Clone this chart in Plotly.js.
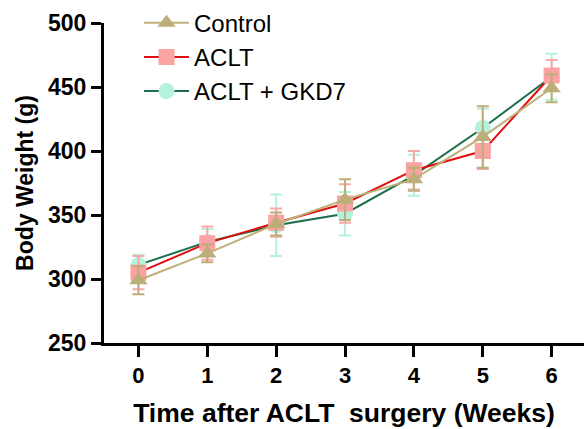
<!DOCTYPE html>
<html>
<head>
<meta charset="utf-8">
<script src="https://cdn.plot.ly/plotly-3.0.1.min.js"></script>
<style>html,body{margin:0;padding:0;background:#fff;}#chart{width:584px;height:429px;}</style>
</head>
<body>
<div id="chart"></div>
<script>
const weeks = [0, 1, 2, 3, 4, 5, 6];
const tickLabels = ["0", "1", "2", "3", "4", "5", "6"];
const seriesNames = ["Control", "ACLT", "ACLT + GKD7"];
const controlMean = [299, 320, 343, 362, 378, 411, 449];
const controlErr  = [11, 7, 9, 16, 9, 24, 11];
const acltMean    = [305, 328, 344, 359, 385, 400, 459];
const acltErr     = [13, 13, 11, 15, 15, 14, 12];
const gkd7Mean    = [311, 329, 342, 351, 381, 418, 458];
const gkd7Err     = [8, 10, 24, 17, 16, 15, 18];

function mk(name, y, err, lineColor, markerColor, errColor, symbol) {
  return {
    type: 'scatter', mode: 'lines+markers', name: name,
    x: weeks, y: y,
    line: {color: lineColor, width: 2},
    marker: {symbol: symbol, size: 16, color: markerColor, line: {width: 0}},
    error_y: {type: 'data', array: err, visible: true, color: errColor, thickness: 2, width: 6}
  };
}
const data = [
  mk(seriesNames[2], gkd7Mean, gkd7Err, '#1b6e4a', '#b4f2dc', '#b4f2dc', 'circle'),
  mk(seriesNames[1], acltMean, acltErr, '#e01010', '#fba3a3', '#f9a8a8', 'square'),
  mk(seriesNames[0], controlMean, controlErr, '#bfb07a', '#bcae78', '#bcae78', 'triangle-up')
];
const FF = 'Liberation Sans, Arial, sans-serif';
const layout = {
  width: 584, height: 429,
  margin: {l: 104, r: 0, t: 23, b: 86},
  paper_bgcolor: '#fff', plot_bgcolor: '#fff',
  font: {family: FF, color: '#000'},
  showlegend: true,
  legend: {x: 0.073, y: 1.07, xanchor: 'left', yanchor: 'top', traceorder: 'reversed',
           itemwidth: 45,
           font: {size: 24, color: '#000', family: FF}, bgcolor: 'rgba(0,0,0,0)', tracegroupgap: 0},
  xaxis: {
    range: [-0.5, 6.47], tickmode: 'array', tickvals: weeks, ticktext: tickLabels,
    showgrid: false, zeroline: false, showline: true, linecolor: '#000', linewidth: 3,
    ticks: 'outside', ticklen: 11, tickwidth: 3, tickcolor: '#000',
    tickfont: {size: 22, family: FF, weight: 'bold'},
    title: {text: 'Time after ACLT\u00a0 surgery (Weeks)', font: {size: 26.5, weight: 'bold', family: FF}, standoff: 17}
  },
  yaxis: {
    range: [250, 500], tickvals: [250, 300, 350, 400, 450, 500],
    showgrid: false, zeroline: false, showline: true, linecolor: '#000', linewidth: 3,
    ticks: 'outside', ticklen: 10, tickwidth: 3, tickcolor: '#000',
    tickfont: {size: 23, family: FF, weight: 'bold'},
    title: {text: 'Body Weight (g)', font: {size: 23, weight: 'bold', family: FF}, standoff: 8}
  }
};
Plotly.newPlot('chart', data, layout, {displayModeBar: false, staticPlot: true});
</script>
</body>
</html>
